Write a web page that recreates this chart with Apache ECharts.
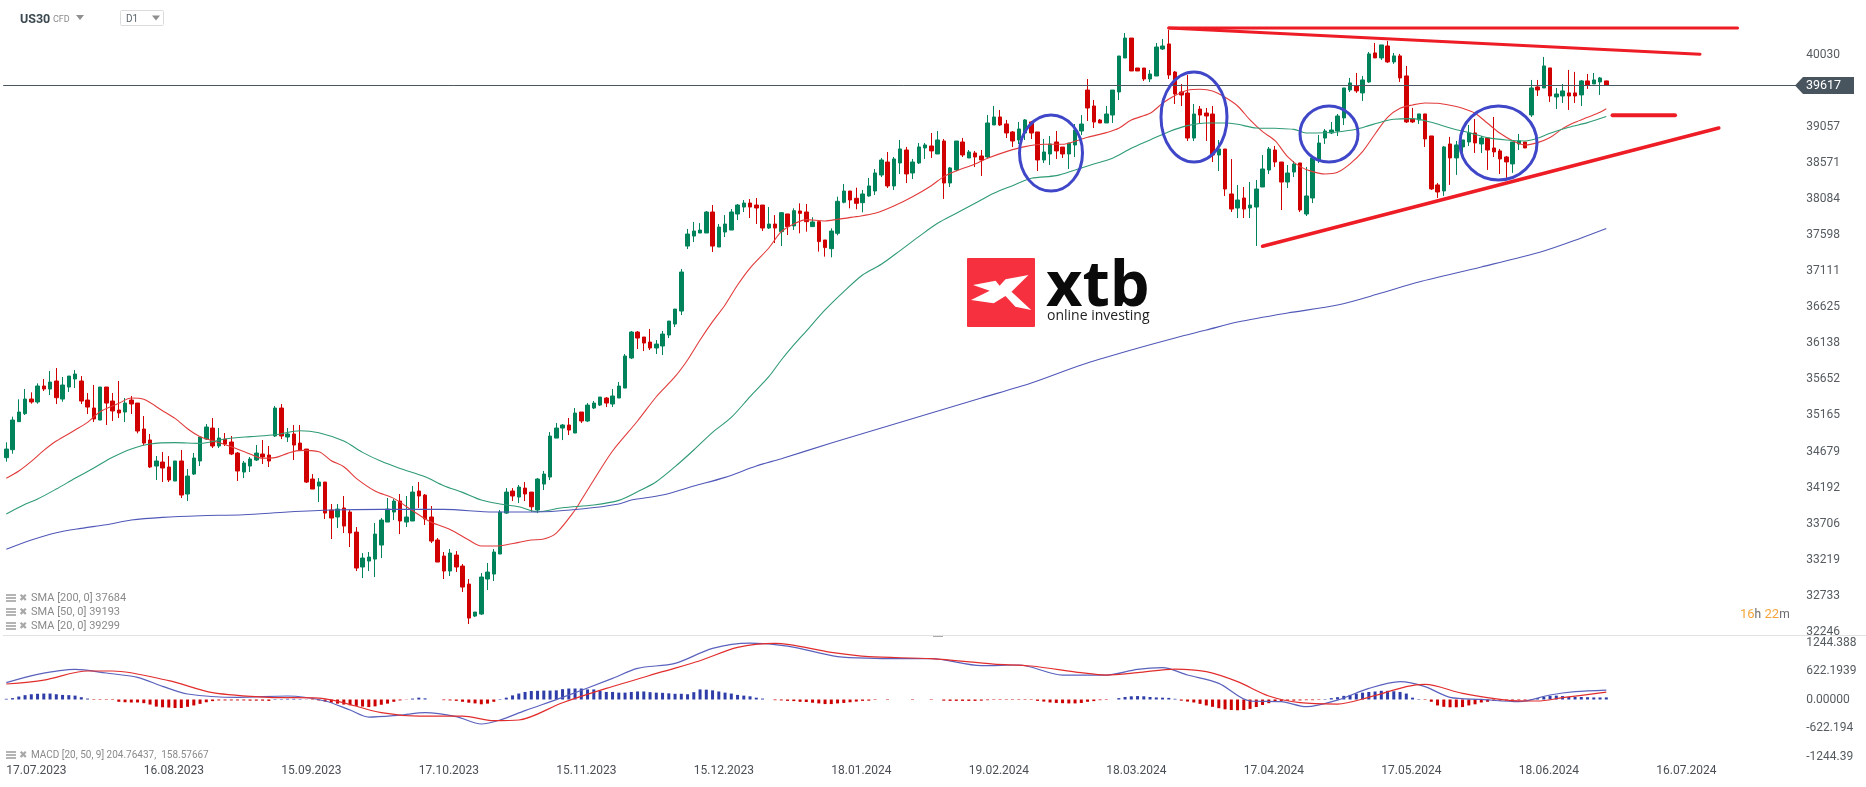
<!DOCTYPE html>
<html>
<head>
<meta charset="utf-8">
<title>US30 D1</title>
<script src="https://cdn.jsdelivr.net/npm/echarts@6/dist/echarts.min.js"></script>
<style>
html,body{margin:0;padding:0;background:#fff;}
#chart{width:1866px;height:787px;}
</style>
</head>
<body>
<div id="chart"></div>
<script>
// x axis labels, one every 22 daily bars
var tickDates = ['17.07.2023','16.08.2023','15.09.2023','17.10.2023','15.11.2023','15.12.2023','18.01.2024','19.02.2024','18.03.2024','17.04.2024','17.05.2024','18.06.2024','16.07.2024'];
var barsOnAxis = 288; // bars plus the empty space on the right
var macdTicks = ['-1244.39','-622.194','0.00000','622.1939','1244.388'];
var lastPrice = 39617;

// open, close, low, high
var candles = [
[34596,34712,34542,34802],[34703,35103,34649,35148],[35081,35211,35081,35382],[35189,35386,35171,35521],[35386,35346,35323,35476],
[35346,35562,35323,35597],[35562,35521,35494,35656],[35521,35615,35440,35764],[35629,35404,35319,35804],[35386,35575,35350,35683],
[35548,35696,35481,35696],[35656,35723,35535,35777],[35629,35359,35319,35696],[35373,35278,35184,35467],[35265,35117,35076,35575],
[35103,35548,35103,35548],[35548,35332,35036,35548],[35359,35225,35090,35467],[35238,35198,35130,35629],[35211,35332,35076,35400],
[35373,35319,35184,35427],[35332,34955,34924,35332],[34982,34793,34766,35157],[34834,34470,34456,34915],[34483,34551,34295,34618],
[34537,34456,34268,34672],[34470,34295,34268,34618],[34281,34551,34281,34551],[34551,34092,34052,34699],[34106,34348,34011,34443],
[34375,34591,34362,34658],[34551,34874,34483,34874],[34847,35009,34834,35049],[34995,34753,34726,35130],[34753,34861,34726,34995],
[34847,34780,34753,34928],[34807,34645,34631,34888],[34658,34416,34281,34672],[34402,34524,34321,34551],[34483,34578,34402,34605],
[34564,34658,34551,34766],[34645,34605,34510,34834],[34631,34551,34470,34753],[34888,35265,34874,35292],[35265,34888,34847,35319],
[34874,34915,34807,34995],[34915,34766,34564,35036],[34793,34690,34690,35036],[34712,34267,34254,34712],[34308,34173,34173,34375],
[34213,34267,33998,34321],[34267,33849,33769,34267],[33890,33782,33499,33971],[33796,33903,33647,33971],[33917,33674,33580,34079],
[33863,33580,33391,33890],[33593,33108,33068,33661],[33122,33243,32973,33310],[33202,33256,33068,33324],[33229,33566,32987,33715],
[33418,33755,33243,33782],[33728,33903,33728,34052],[33863,34011,33755,34038],[34011,33742,33566,34106],[33728,33796,33661,34079],
[33742,34132,33742,34213],[34146,34079,33917,34267],[34092,33769,33688,34106],[33796,33472,33445,33944],[33486,33189,33189,33513],
[33270,33068,32960,33324],[33068,33310,33000,33364],[33283,33122,33054,33337],[33135,32852,32785,33162],[32892,32434,32353,32960],
[32461,32515,32448,32515],[32488,32987,32475,33041],[32960,33054,32812,33176],[33027,33324,32933,33364],[33297,33863,33297,33890],
[33849,34132,33836,34186],[34146,34079,34011,34186],[34065,34200,33984,34227],[34186,34106,34011,34267],[34132,33934,33867,34132],
[33890,34308,33849,34321],[34240,34375,34160,34416],[34335,34887,34294,34941],[34860,34995,34860,35063],[34995,35036,34833,35049],
[35036,34968,34901,35130],[34928,35197,34928,35265],[35211,35090,35063,35211],[35090,35305,35076,35332],[35265,35332,35251,35359],
[35305,35413,35292,35413],[35400,35332,35278,35413],[35319,35427,35278,35521],[35400,35561,35400,35615],[35534,35966,35534,35993],
[35939,36289,35925,36303],[36289,36208,36060,36303],[36222,36141,36033,36222],[36154,36074,36047,36330],[36074,36127,35993,36181],
[36101,36262,35979,36303],[36249,36437,36208,36437],[36397,36599,36357,36599],[36572,37098,36518,37138],[37448,37610,37408,37678],
[37583,37651,37502,37772],[37624,37664,37624,37758],[37624,37907,37624,37920],[37907,37448,37368,38001],[37435,37704,37435,37745],
[37637,37745,37570,37866],[37664,37907,37664,37947],[37880,38001,37799,38015],[37974,38028,37907,38068],[38028,37974,37826,38082],
[38001,37961,37745,38095],[38001,37691,37651,38001],[37691,37745,37678,37974],[37745,37691,37489,37866],[37642,37898,37449,37907],
[37881,37710,37597,37881],[37719,37925,37665,37957],[37921,37889,37620,38024],[37907,37777,37642,38015],[37710,37773,37710,37836],
[37777,37508,37373,37777],[37530,37427,37305,37530],[37413,37651,37296,37687],[37620,38051,37593,38114],[38038,38190,38024,38285],
[38190,38069,37957,38190],[38092,38024,37943,38235],[38033,38150,37903,38204],[38123,38258,38114,38366],[38190,38433,38137,38487],
[38406,38608,38379,38635],[38581,38258,38231,38716],[38258,38622,38204,38649],[38568,38757,38420,38878],[38743,38420,38298,38784],
[38433,38581,38352,38622],[38568,38784,38554,38837],[38770,38811,38622,38837],[38797,38730,38635,38972],[38689,38878,38689,38999],
[38864,38298,38083,38891],[38298,38501,38244,38514],[38474,38864,38460,38864],[38851,38676,38649,38905],[38635,38716,38635,38743],
[38703,38649,38514,38730],[38662,38608,38393,38743],[38649,39107,38635,39215],[39080,39188,39080,39336],[39188,39080,39067,39282],
[39094,38972,38905,39148],[38986,38864,38784,38999],[38878,39026,38824,39121],[38972,39148,38878,39161],[39121,38972,38891,39134],
[38986,38608,38460,38986],[38608,38716,38568,38891],[38689,38824,38541,38932],[38851,38730,38622,38999],[38783,38689,38635,38783],
[38689,38837,38487,38837],[38810,39012,38648,39093],[38999,39093,38945,39214],[39551,39309,39134,39700],[39336,39120,39039,39417],
[39147,39107,39107,39161],[39107,39228,39107,39336],[39214,39551,39107,39551],[39525,40010,39417,40010],[39983,40252,39983,40320],
[40252,39808,39808,40252],[39848,39808,39808,39848],[39848,39700,39673,39848],[39700,39767,39659,39821],[39740,40131,39740,40185],
[40104,40145,40091,40239],[40172,39754,39700,40360],[39794,39498,39363,39808],[39525,39484,39336,39632],[39511,38904,38864,39754],
[38904,39228,38864,39363],[39295,39214,39107,39336],[39241,39201,38864,39309],[39228,38675,38581,39336],[38675,38756,38460,38877],
[38756,38217,38123,38756],[38150,37947,37907,38621],[37961,38069,37826,38271],[38096,37947,37826,38244],[37961,38001,37826,38311],
[37974,38217,37449,38338],[38244,38487,38244,38675],[38473,38756,38419,38783],[38743,38581,38514,38797],[38581,38311,37934,38581],
[38311,38433,38231,38541],[38446,38554,38379,38594],[38568,37934,37907,38568],[37880,38123,37853,38514],[38096,38635,38028,38635],
[38608,38837,38568,38945],[38904,38999,38824,39026],[38972,39012,38958,39120],[38999,39201,38931,39228],[39175,39579,39080,39579],
[39552,39647,39525,39714],[39611,39539,39512,39781],[39512,39687,39404,39741],[39660,40038,39647,40064],[40051,39984,39984,40186],
[39984,40159,39957,40159],[40145,39930,39916,40213],[39930,40011,39903,40051],[40011,39714,39660,40038],[39741,39121,39107,39876],
[39161,39121,39107,39310],[39148,39229,39094,39229],[39229,38892,38784,39229],[38932,38218,38204,38932],[38272,38177,38097,38299],
[38191,38784,38124,38797],[38824,38636,38272,38919],[38636,38811,38407,38865],[38784,38878,38663,38878],[38851,38973,38797,39080],
[38973,38838,38703,39161],[38824,38905,38703,38932],[38905,38743,38474,38905],[38770,38717,38649,39188],[38730,38622,38420,38757],
[38649,38582,38366,38663],[38555,38851,38434,38851],[38824,38865,38743,38959],[38851,38770,38770,38851],[39215,39579,39188,39687],
[39593,39552,39471,39687],[39579,39876,39579,39997],[39849,39471,39391,39849],[39458,39498,39296,39579],[39471,39539,39377,39633],
[39512,39471,39283,39822],[39512,39471,39377,39795],[39485,39674,39337,39687],[39674,39620,39566,39768],[39633,39687,39633,39781],
[39660,39714,39485,39727],[39674,39617,39617,39674]
];

// moving averages as [bar, value]
var sma20 = [[0,34317],[2,34416],[4,34546],[6,34694],[8,34820],[11,34968],[13,35072],[15,35216],[18,35328],[20,35400],[22,35382],[25,35229],[27,35126],[29,34986],[31,34879],[33,34825],[36,34744],[39,34645],[41,34587],[43,34596],[45,34654],[47,34694],[50,34676],[52,34555],[54,34474],[56,34317],[59,34146],[62,34047],[65,33881],[68,33724],[71,33629],[74,33485],[76,33405],[79,33409],[82,33454],[84,33485],[86,33499],[88,33580],[91,33890],[92,34025],[94,34295],[97,34686],[101,35090],[104,35417],[107,35687],[109,35912],[111,36182],[113,36429],[115,36654],[117,36923],[119,37152],[122,37422],[124,37642],[126,37746],[128,37804],[131,37786],[133,37809],[136,37845],[139,37889],[142,37988],[145,38114],[148,38262],[150,38384],[152,38460],[155,38554],[157,38631],[160,38721],[163,38788],[166,38820],[169,38820],[171,38860],[173,38914],[176,38977],[178,39035],[180,39148],[183,39237],[185,39372],[187,39476],[189,39547],[191,39561],[193,39538],[195,39453],[197,39336],[199,39148],[201,38990],[203,38869],[205,38653],[207,38519],[209,38451],[211,38420],[213,38442],[215,38555],[217,38721],[219,38959],[221,39184],[223,39305],[225,39350],[227,39377],[229,39373],[231,39346],[233,39305],[235,39238],[237,39103],[239,38968],[241,38869],[243,38811],[245,38842],[247,38910],[249,39031],[251,39116],[253,39184],[255,39251],[256,39299]];
var sma50 = [[0,33836],[3,33967],[5,34038],[8,34173],[11,34317],[14,34456],[17,34600],[20,34712],[23,34780],[27,34798],[31,34789],[35,34847],[39,34879],[43,34905],[47,34959],[50,34932],[54,34820],[57,34667],[60,34546],[63,34451],[67,34339],[70,34218],[73,34128],[76,34025],[79,33971],[82,33935],[85,33867],[89,33920],[94,33958],[98,34020],[101,34137],[104,34272],[107,34474],[110,34699],[113,34937],[116,35139],[119,35417],[122,35687],[124,35912],[126,36115],[128,36303],[131,36587],[134,36834],[137,37058],[140,37202],[143,37386],[146,37575],[149,37755],[152,37890],[155,38024],[158,38159],[161,38262],[164,38361],[168,38397],[171,38474],[174,38554],[177,38631],[180,38766],[183,38878],[186,38990],[189,39071],[192,39107],[195,39107],[197,39089],[200,39039],[203,39035],[206,39021],[208,38972],[211,38976],[213,38986],[216,39022],[218,39071],[220,39121],[222,39157],[225,39166],[228,39116],[231,39040],[234,38977],[237,38910],[240,38878],[243,38865],[245,38901],[247,38968],[250,39049],[253,39112],[256,39193]];
var sma200 = [[0,33360],[4,33485],[8,33584],[12,33643],[16,33692],[20,33755],[25,33791],[31,33813],[38,33827],[45,33863],[52,33890],[60,33899],[70,33899],[78,33863],[86,33867],[92,33903],[98,33971],[100,34025],[105,34092],[110,34213],[115,34330],[120,34483],[124,34582],[132,34793],[140,34996],[148,35198],[156,35400],[164,35602],[172,35845],[180,36047],[187,36209],[192,36316],[197,36424],[205,36546],[213,36653],[220,36815],[226,36964],[236,37166],[246,37382],[252,37557],[256,37684]];

var macdLine = [[0,367],[5,549],[11,658],[16,578],[21,483],[25,287],[29,120],[37,47],[45,76],[51,-33],[55,-230],[58,-383],[63,-339],[67,-288],[72,-375],[76,-535],[79,-448],[83,-244],[89,47],[97,461],[101,680],[107,789],[113,1116],[119,1230],[125,1167],[133,935],[139,898],[145,891],[148,891],[156,738],[162,753],[169,534],[176,534],[181,658],[185,694],[189,534],[194,352],[199,-33],[204,-48],[208,-157],[213,-12],[218,243],[223,389],[227,280],[231,47],[236,3],[242,-48],[247,98],[251,170],[256,205]];
var macdSignal = [[0,338],[6,425],[13,622],[17,622],[26,411],[33,149],[42,47],[50,32],[60,-288],[66,-361],[73,-361],[78,-463],[82,-448],[89,-70],[96,243],[105,607],[111,847],[117,1138],[123,1226],[132,1029],[138,935],[148,891],[158,774],[164,731],[172,585],[176,534],[181,585],[187,665],[192,607],[197,389],[202,76],[207,-70],[213,-99],[218,47],[224,280],[227,331],[233,134],[240,-12],[245,-33],[249,39],[256,159]];
var macdHist = [
15,30,65,95,115,125,130,130,115,100,95,85,50,20,-10,-10,-10,-10,-50,-60,
-65,-65,-80,-110,-155,-170,-175,-185,-185,-160,-130,-95,-60,-35,-20,-20,-20,-20,-20,-25,
-25,-25,-30,10,10,15,15,10,5,-10,-20,-45,-70,-90,-110,-125,-140,-155,-165,-150,
-115,-90,-50,-20,-5,20,40,25,0,0,-15,-20,-30,-50,-70,-85,-105,-90,-50,10,
40,90,130,165,185,190,195,195,200,225,240,240,240,220,220,190,165,165,150,150,
165,175,175,160,150,145,135,125,125,115,160,220,215,200,175,150,130,100,85,70,
40,20,0,-15,-20,-30,-35,-50,-55,-70,-85,-100,-100,-85,-75,-60,-45,-30,-25,-10,
0,-10,0,0,0,-10,0,0,-10,0,-25,-30,-30,-30,-30,-30,-25,-15,-10,-10,
-10,-10,-10,-10,-10,-30,-45,-65,-75,-80,-85,-85,-75,-50,-35,-15,-10,0,30,55,
70,75,70,55,45,40,35,15,-25,-45,-65,-95,-130,-160,-190,-215,-230,-235,-230,-205,
-165,-120,-80,-50,-30,-25,-25,-20,-15,-15,-10,10,30,50,80,100,130,150,165,175,
190,190,180,165,130,40,10,-10,-50,-130,-160,-170,-170,-165,-130,-105,-65,-50,-30,-25,
-20,-15,-15,-15,-10,30,60,80,85,75,60,55,55,50,45,45,46
];

// drawn trend lines, [bar, value]
var topLine = [[186,40388],[277,40388]];
var fallingLine = [[186,40388],[271,40033]];
var risingLine = [[201,37446],[274,39040]];
var shortLine = [[257,39211],[267,39211]];

var smaLegend = ['SMA [200, 0] 37684','SMA [50, 0] 39193','SMA [20, 0] 39299'];
var macdLegend = 'MACD [20, 50, 9] 204.76437,  158.57667';

var categories = [];
for (var i = 0; i < barsOnAxis; i++) {
	categories.push(i % 22 == 0 && tickDates[i / 22] ? tickDates[i / 22] : '');
}

function lineSeries(name, data, color, width, grid) {
	return {
		name: name, type: 'line', data: data,
		xAxisIndex: grid, yAxisIndex: grid,
		symbol: 'none', silent: true, smooth: 0.3,
		lineStyle: { color: color, width: width }
	};
}
function trendSeries(data, width) {
	return {
		type: 'line', data: data, symbol: 'none', silent: true,
		xAxisIndex: 0, yAxisIndex: 0, z: 6,
		lineStyle: { color: '#ee1c25', width: width, cap: 'round' }
	};
}

// little "list + cross" icon in front of each indicator caption
function captionIcon(y) {
	var list = [];
	for (var k = 0; k < 3; k++) {
		list.push({ type: 'rect', shape: { x: 6, y: y - 4 + k * 3, width: 10, height: 2 }, style: { fill: '#b4b4b4' }, z: 50 });
	}
	list.push({ type: 'text', x: 19, y: y, style: { text: '\u2716', font: '10px "DejaVu Sans"', fill: '#a8a8a8', verticalAlign: 'middle' }, z: 50 });
	return list;
}
function label(text, x, y, font, fill, extra) {
	var st = { text: text, font: font, fill: fill, verticalAlign: 'middle' };
	for (var key in extra) st[key] = extra[key];
	return { type: 'text', x: x, y: y, style: st, z: 50 };
}
function ring(cx, cy, rx, ry) {
	return { type: 'ellipse', shape: { cx: cx, cy: cy, rx: rx, ry: ry }, style: { fill: 'none', stroke: '#3f47c8', lineWidth: 3 }, z: 40 };
}
function arrow(x, y) {
	return { type: 'polygon', shape: { points: [[x, y], [x + 8, y], [x + 4, y + 5]] }, style: { fill: '#8f8f8f' }, z: 50 };
}

var graphics = [
	label('US30', 20, 20, 'bold 12.5px Roboto', '#3c4850'),
	label('CFD', 53, 20, '9px Roboto', '#8a8a8a'),
	arrow(76, 15),
	{ type: 'rect', shape: { x: 120.5, y: 10.5, width: 43, height: 15, r: 1 }, style: { fill: '#fff', stroke: '#dcdcdc', lineWidth: 1 }, z: 49 },
	label('D1', 126, 19.5, '10px Roboto', '#5c666e'),
	arrow(152, 15.5),
	// separator between the two panes
	{ type: 'rect', shape: { x: 3, y: 635, width: 1863, height: 1 }, style: { fill: '#e2e2e2' }, z: 1 },
	{ type: 'rect', shape: { x: 933, y: 636, width: 10, height: 1 }, style: { fill: '#aaaaaa' }, z: 2 },
	// logo
	{ type: 'rect', shape: { x: 967, y: 258, width: 68, height: 69, r: 1 }, style: { fill: '#f6303e' }, z: 30 },
	{ type: 'polygon', shape: { points: [[1028.5,275],[1005.5,279.3],[999.6,285.7],[995.6,280.7],[973,285],[989.7,290.7],[971,300],[993.7,303.3],[1005.5,296],[1015.4,306.7],[1031.2,310],[1011.5,291.7]] }, style: { fill: '#fff' }, z: 31 },
	label('xtb', 1046, 288, 'bold 63px "Open Sans"', '#0a0a0a'),
	label('online investing', 1047, 316, '14px "Open Sans"', '#222222'),
	// marked zones
	ring(1051, 153, 31.5, 38),
	ring(1194, 117, 33, 45),
	ring(1329, 134, 29, 28),
	ring(1498.5, 143, 38.5, 37),
	// current price tag
	{ type: 'polygon', shape: { points: [[1795,85.5],[1803,77],[1854,77],[1854,94],[1803,94]] }, style: { fill: '#48555f' }, z: 45 },
	label(String(lastPrice), 1806, 86, '12.5px Roboto', '#ffffff'),
	// countdown
	{ type: 'text', x: 1740, y: 615, z: 50, style: {
		text: '{o|16}{g|h} {o|22}{g|m}', verticalAlign: 'middle',
		rich: { o: { font: '13px Roboto', fill: '#f5a53a' }, g: { font: '12px Roboto', fill: '#6a6a6a' } }
	} }
];
smaLegend.forEach(function (txt, n) {
	var y = 598 + n * 14;
	graphics = graphics.concat(captionIcon(y));
	graphics.push(label(txt, 31, y, '11px Roboto', '#8a8a8a'));
});
graphics = graphics.concat(captionIcon(755));
graphics.push(label(macdLegend, 31, 755.5, '10px Roboto', '#8a8a8a'));

var option = {
	animation: false,
	backgroundColor: '#ffffff',
	textStyle: { fontFamily: 'Roboto' },
	grid: [
		{ left: 3.175, top: 18.41, width: 1800, height: 613.59 },
		{ left: 3.175, top: 642.5, width: 1800, height: 114 }
	],
	xAxis: [
		{ type: 'category', gridIndex: 0, data: categories, show: false },
		{
			type: 'category', gridIndex: 1, data: categories,
			axisLine: { show: false }, axisTick: { show: false },
			axisLabel: { interval: 21, align: 'left', margin: 8, color: '#4a4f55', fontSize: 12, fontFamily: 'Roboto', hideOverlap: false }
		}
	],
	yAxis: [
		{
			type: 'value', gridIndex: 0, position: 'right', scale: true,
			min: 32246, max: 40516.5, interval: 486.5,
			axisLine: { show: false }, axisTick: { show: false }, splitLine: { show: false },
			axisLabel: {
				margin: 3, color: '#555b60', fontSize: 12, fontFamily: 'Roboto', showMaxLabel: false,
				formatter: function (v) { return Math.round(v); }
			}
		},
		{
			type: 'value', gridIndex: 1, position: 'right',
			min: -1244.388, max: 1244.388, interval: 622.194,
			axisLine: { show: false }, axisTick: { show: false }, splitLine: { show: false },
			axisLabel: {
				margin: 3, color: '#555b60', fontSize: 12, fontFamily: 'Roboto',
				formatter: function (v, idx) { return macdTicks[idx]; }
			}
		}
	],
	series: [
		{
			type: 'candlestick', data: candles, xAxisIndex: 0, yAxisIndex: 0, barWidth: 4, silent: true,
			itemStyle: { color: '#00835a', color0: '#d10000', borderColor: '#00835a', borderColor0: '#d10000', borderWidth: 1 },
			markLine: {
				silent: true, symbol: 'none', label: { show: false },
				lineStyle: { color: '#4a5660', width: 1, type: 'solid' },
				data: [{ yAxis: lastPrice }]
			}
		},
		lineSeries('SMA 20', sma20, '#e23b3b', 1.1, 0),
		lineSeries('SMA 50', sma50, '#2f9b74', 1.1, 0),
		lineSeries('SMA 200', sma200, '#5058b8', 1.1, 0),
		trendSeries(topLine, 3),
		trendSeries(fallingLine, 3),
		trendSeries(risingLine, 3.5),
		trendSeries(shortLine, 4),
		{
			type: 'bar', data: macdHist, xAxisIndex: 1, yAxisIndex: 1, barWidth: 3, silent: true,
			itemStyle: { color: function (p) { return p.value >= 0 ? '#2f3da8' : '#cc0000'; } }
		},
		lineSeries('MACD', macdLine, '#5a62bd', 1.2, 1),
		lineSeries('Signal', macdSignal, '#e22d2d', 1.2, 1)
	],
	graphic: graphics
};

var chart = echarts.init(document.getElementById('chart'), null, { renderer: 'canvas' });
chart.setOption(option);
</script>
</body>
</html>
